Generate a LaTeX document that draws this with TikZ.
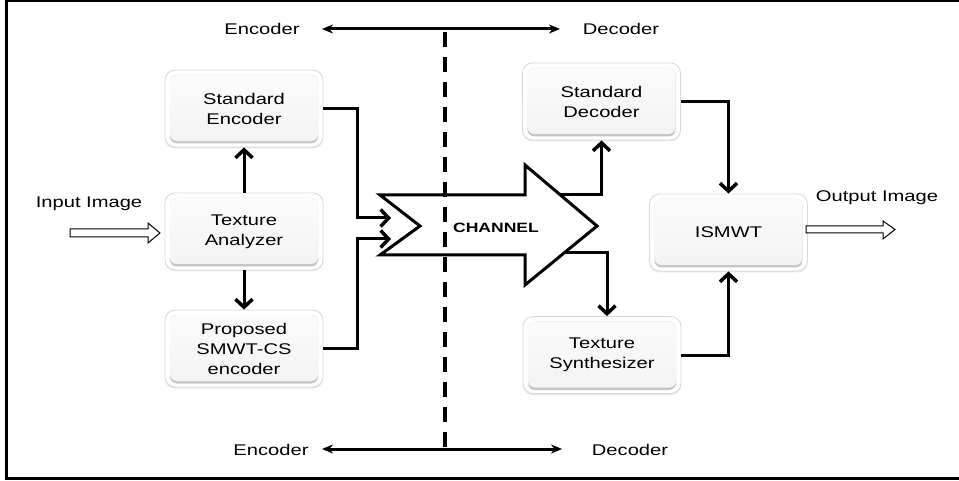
\documentclass[tikz,border=0pt]{standalone}
\usepackage{fontspec}
\setmainfont{Liberation Sans}[FakeStretch=1.3]
\usetikzlibrary{arrows.meta,calc,shadows}
\begin{document}
\begin{tikzpicture}[x=1pt,y=-1pt,
  box/.style={minimum width=158pt, minimum height=77pt, inner sep=0pt, align=center,
    font=\fontsize{15.5}{20}\selectfont, rounded corners=10pt, fill=white, draw=gray!30, line width=0.8pt,
    drop shadow={opacity=0.18, shadow xshift=0pt, shadow yshift=-1.5pt},
    path picture={
      \fill[gray!45, rounded corners=7pt] ([shift={(5pt,3.5pt)}]path picture bounding box.south west) rectangle ([shift={(-5pt,-5pt)}]path picture bounding box.north east);
      \shade[top color=gray!3, bottom color=gray!9, rounded corners=7pt] ([shift={(5pt,6pt)}]path picture bounding box.south west) rectangle ([shift={(-5pt,-5pt)}]path picture bounding box.north east);
    }},
  lbl/.style={font=\fontsize{15.5}{20}\selectfont, inner sep=0pt, anchor=base},
  conn/.style={line width=3pt, -{Straight Barb[length=8pt,width=17pt,line width=3.5pt]}},
  dbl/.style={line width=3pt, {Stealth[length=11pt,width=9pt]}-{Stealth[length=11pt,width=9pt]}},
  openarrow/.style={draw=black, line width=1pt, fill=white, line join=miter}
]
\useasboundingbox (0,0) rectangle (959,481);
\fill[white] (0,0) rectangle (959,481);
% frame
\draw[line width=3pt] (960,1) -- (6.5,1) -- (6.5,478.5) -- (960,478.5);

% boxes
\node[box] (se) at (244,108.5) {Standard\\Encoder};
\node[box] (ta) at (244,231.5) {Texture\\Analyzer};
\node[box] (pe) at (244,348.5) {Proposed\\SMWT-CS\\encoder};
\node[box] (sd) at (601.5,101.5) {Standard\\Decoder};
\node[box] (is) at (728.5,232.5) {ISMWT};
\node[box] (ts) at (602,355) {Texture\\Synthesizer};

% channel arrow
\draw[line width=3pt, fill=white, line join=miter] (380,195) -- (525,195) -- (525,165) -- (597,226) -- (525,285) -- (525,255) -- (380,255) -- (420,226) -- cycle;
\node[font=\bfseries\fontsize{13.5}{16}\selectfont, inner sep=0pt, anchor=base] (ch) at (496,233) {CHANNEL};
\coordinate (chin1) at (391,218);
\coordinate (chin2) at (391,239);
\coordinate (chout1) at (560,195);
\coordinate (chout2) at (565,253);

% divider
\coordinate (dtop) at (445,29);
\coordinate (dbot) at (445,449);
\draw[line width=3.5pt, dash pattern=on 15pt off 10pt, dash phase=22pt] (dtop) -- (dbot);

% top/bottom labels
\node[lbl] (encT) at (262,35) {Encoder};
\node[lbl] (decT) at (621,35) {Decoder};
\node[lbl] (encB) at (271,455) {Encoder};
\node[lbl] (decB) at (630,455) {Decoder};
\coordinate (tl) at (322,29);
\coordinate (tr) at (560,29);
\coordinate (bl) at (322,449);
\coordinate (br) at (562,449);
\draw[dbl] (tl) -- (tr);
\draw[dbl] (bl) -- (br);

% input / output
\node[lbl] (inl) at (89,208) {Input Image};
\node[lbl] (outl) at (877,202) {Output Image};
\draw[openarrow] (70,229) -- (148,229) -- (148,223) -- (160,233) -- (148,243) -- (148,237) -- (70,237) -- cycle;
\draw[openarrow] (806,226) -- (883,226) -- (883,221) -- (895,229.5) -- (883,239) -- (883,233) -- (806,233) -- cycle;

% connectors
\draw[conn] (ta.north) -- (se.south);
\draw[conn] (ta.south) -- (pe.north);
\draw[conn] (se.east) -- ++(34,0) |- (chin1);
\draw[conn] (pe.east) -- ++(34,0) |- (chin2);
\draw[conn] (chout1) -| (sd.south);
\draw[conn] (chout2) -| ([xshift=5pt]ts.north);
\draw[conn] (sd.east) -| (is.north);
\draw[conn] (ts.east) -| (is.south);
\end{tikzpicture}
\end{document}
